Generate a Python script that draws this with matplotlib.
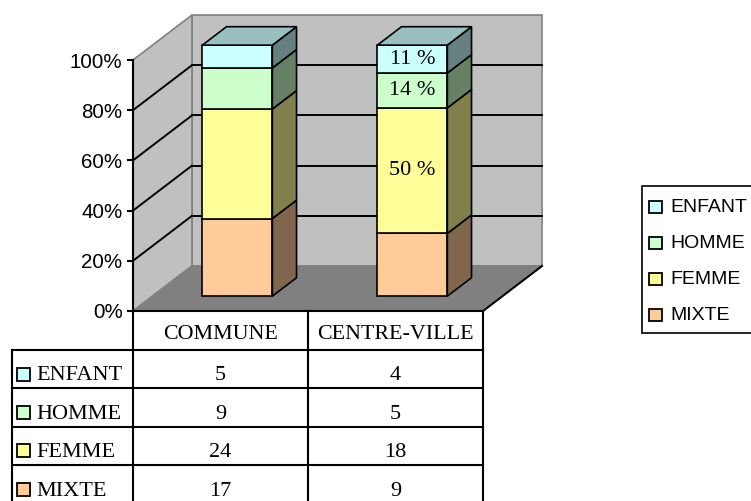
import numpy as np
import matplotlib.pyplot as plt
from matplotlib.patches import Polygon, Rectangle

# data
categories = ['COMMUNE', 'CENTRE-VILLE']
series_names = ['MIXTE', 'FEMME', 'HOMME', 'ENFANT']
mixte = [17, 9]
femme = [24, 18]
homme = [9, 5]
enfant = [5, 4]
pct_ticks = [0, 20, 40, 60, 80, 100]
# only these segments carry a percent label in the original
labelled = {'CENTRE-VILLE': ['FEMME', 'HOMME', 'ENFANT']}

face_colors = ['#FFCC99', '#FFFF99', '#CCFFCC', '#CCFFFF']
wall_color = '#C0C0C0'
floor_color = '#808080'
edge_gray = '#808080'

counts = np.array([mixte, femme, homme, enfant], dtype=float)
pcts = counts / counts.sum(axis=0) * 100

serif = ['Liberation Serif', 'DejaVu Serif']
sans = ['Liberation Sans', 'DejaVu Sans']

fig = plt.figure(figsize=(7.51, 5.01), dpi=100)
W, H = 751, 501

# front plane of the 3d box, in pixels
x0_px, x1_px, y0_px, y1_px = 133, 483, 311, 60
ax = fig.add_axes([x0_px / W, (H - y0_px) / H, (x1_px - x0_px) / W, (y0_px - y1_px) / H])
ncat = len(categories)
ax.set_xlim(0, ncat)
ax.set_ylim(0, 100)
ax.patch.set_visible(False)

# pixel -> data unit helpers
ux = ncat / (x1_px - x0_px)
uy = 100 / (y0_px - y1_px)

# depth vector of the box
DX, DY = 59 * ux, 45 * uy


def sh(x, y, f):
    return (x + f * DX, y + f * DY)


def poly(pts, fc, ec, lw=1.0, z=1):
    ax.add_patch(Polygon(pts, closed=True, facecolor=fc, edgecolor=ec,
                         linewidth=lw, zorder=z, clip_on=False))


# walls and floor
poly([sh(0, 0, 1), sh(ncat, 0, 1), sh(ncat, 100, 1), sh(0, 100, 1)], wall_color, edge_gray, 1.2, 1)
poly([(0, 0), (0, 100), sh(0, 100, 1), sh(0, 0, 1)], wall_color, edge_gray, 1.2, 1)
poly([(0, 0), (ncat, 0), sh(ncat, 0, 1), sh(0, 0, 1)], floor_color, edge_gray, 1.2, 1)
ax.plot(*zip((ncat, 0), sh(ncat, 0, 1)), color='black', lw=1.4, zorder=2, clip_on=False)

for v in pct_ticks[1:-1]:
    ax.plot(*zip(sh(0, v, 1), sh(ncat, v, 1)), color='black', lw=1.4, zorder=2, clip_on=False)
    ax.plot(*zip((0, v), sh(0, v, 1)), color='black', lw=1.4, zorder=2, clip_on=False)

# stacked 3d bars
bar_w = 0.4
f_front, f_back = 0.33, 0.74


def shade(c, k):
    c = np.array([int(c[i:i + 2], 16) for i in (1, 3, 5)]) / 255 * k
    return tuple(c)


for j, cat in enumerate(categories):
    xl = j + 0.485 - bar_w / 2
    xr = j + 0.485 + bar_w / 2
    bottom = 0
    for i, name in enumerate(series_names):
        top = bottom + pcts[i, j]
        fl, fb = sh(xl, bottom, f_front)
        fr, ft = sh(xr, top, f_front)
        poly([(fl, fb), (fr, fb), (fr, ft), (fl, ft)], face_colors[i], 'black', 1.2, 5)
        poly([sh(xr, bottom, f_front), sh(xr, bottom, f_back),
              sh(xr, top, f_back), sh(xr, top, f_front)],
             shade(face_colors[i], 0.5), 'black', 1.2, 5)
        if i == len(series_names) - 1:
            poly([sh(xl, top, f_front), sh(xr, top, f_front),
                  sh(xr, top, f_back), sh(xl, top, f_back)],
                 shade(face_colors[i], 0.75), 'black', 1.2, 5)
        if name in labelled.get(cat, []):
            ax.text((fl + fr) / 2, (fb + ft) / 2, f'{round(pcts[i, j])} %',
                    ha='center', va='center', fontsize=16, family=serif, zorder=6)
        bottom = top

# axes
for s in ['top', 'right']:
    ax.spines[s].set_visible(False)
for s in ['left', 'bottom']:
    ax.spines[s].set_linewidth(1.5)
    ax.spines[s].set_zorder(7)
ax.set_yticks(pct_ticks)
ax.set_yticklabels([f'{t}%' for t in pct_ticks], fontsize=14.8, family=sans)
ax.tick_params(axis='y', direction='out', length=4.5, width=1.5, pad=3)
ax.set_xticks([])

# data table under the chart
head_h = 39 * uy
row_h = 38.4 * uy
left = (12 - x0_px) * ux
nrows = len(series_names)
tl = dict(color='black', lw=1.5, clip_on=False, zorder=7)
row_tops = [-head_h - r * row_h for r in range(nrows + 1)]
for yt in row_tops:
    ax.plot([left, ncat], [yt, yt], **tl)
ax.plot([left, left], [row_tops[0], row_tops[-1]], **tl)
for c in range(ncat + 1):
    ax.plot([c, c], [0, row_tops[-1]], **tl)

for j, cat in enumerate(categories):
    ax.text(j + 0.5, -28 * uy, cat, ha='center', va='baseline', fontsize=15.8,
            family=serif, clip_on=False)

for r, i in enumerate(reversed(range(nrows))):
    base = row_tops[r] - 30.5 * uy
    ax.add_patch(Rectangle(((17 - x0_px) * ux, base), 13 * ux, 13 * uy,
                           facecolor=face_colors[i], edgecolor='black', lw=1.3,
                           clip_on=False, zorder=7))
    ax.text((36 - x0_px) * ux, base, series_names[i], ha='left', va='baseline',
            fontsize=16, family=serif, clip_on=False)
    for j in range(ncat):
        ax.text(j + 0.5, base, f'{int(counts[i, j])}', ha='center', va='baseline',
                fontsize=16, family=serif, clip_on=False)

# legend, drawn in pixel space
lax = fig.add_axes([0, 0, 1, 1])
lax.set_xlim(0, W)
lax.set_ylim(H, 0)
lax.axis('off')
lax.add_patch(Rectangle((642, 186), 200, 147, facecolor='white', edgecolor='black',
                        lw=1.2, clip_on=False))
for k, i in enumerate(reversed(range(nrows))):
    yc = 207 + 36 * k
    lax.add_patch(Rectangle((649, yc - 6), 13, 12, facecolor=face_colors[i],
                            edgecolor='black', lw=1.3))
    lax.text(670, yc, series_names[i], ha='left', va='center', fontsize=14,
             family=sans)

fig.savefig('out.png', dpi=100)
